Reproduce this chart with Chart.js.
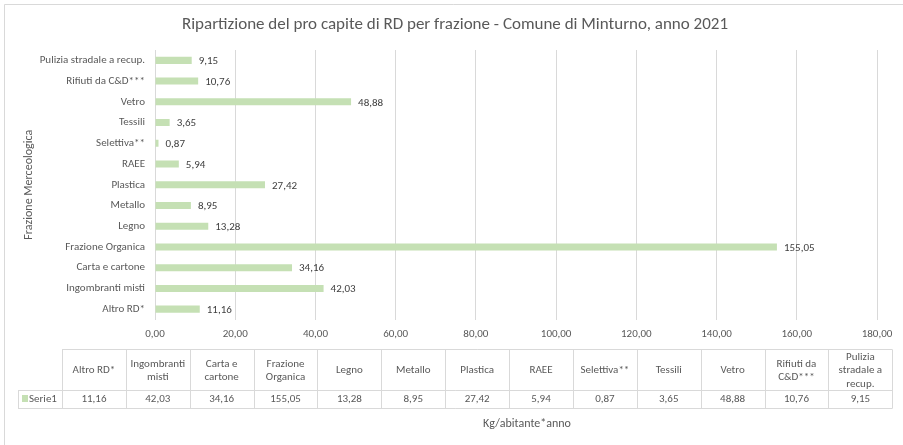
<!DOCTYPE html>
<html><head><meta charset="utf-8">
<script src="https://cdn.jsdelivr.net/npm/chart.js@4/dist/chart.umd.min.js"></script>
<style>html,body{margin:0;padding:0;background:#fff}canvas{display:block}</style>
</head><body>
<canvas id="c" width="903" height="445"></canvas>
<script>
const categories = ['Altro RD*','Ingombranti misti','Carta e cartone','Frazione Organica','Legno','Metallo','Plastica','RAEE','Selettiva**','Tessili','Vetro','Rifiuti da C&D***','Pulizia stradale a recup.'];
const values = [11.16,42.03,34.16,155.05,13.28,8.95,27.42,5.94,0.87,3.65,48.88,10.76,9.15];
const seriesName = 'Serie1';
const xTickValues = [0,20,40,60,80,100,120,140,160,180];
const chartTitle = 'Ripartizione del pro capite di RD per frazione - Comune di Minturno, anno 2021';
const xAxisTitle = 'Kg/abitante*anno';
const yAxisTitle = 'Frazione Merceologica';

const FONT = 'Carlito, Calibri, Lato, sans-serif';
const GREEN = '#c5e0b4';
const GRID = '#d9d9d9';
const TXT = '#595959';
const fmt = v => v.toFixed(2).replace('.', ',');

function wrap(ctx, text, maxW) {
  const words = text.split(' ');
  const lines = [];
  let cur = '';
  for (const w of words) {
    const t = cur ? cur + ' ' + w : w;
    if (cur && ctx.measureText(t).width > maxW) { lines.push(cur); cur = w; }
    else cur = t;
  }
  if (cur) lines.push(cur);
  return lines;
}

const extras = {
  id: 'extras',
  beforeDraw(chart) {
    const ctx = chart.ctx;
    ctx.save();
    ctx.fillStyle = '#fff';
    ctx.fillRect(0, 0, chart.width, chart.height);
    ctx.strokeStyle = GRID; ctx.lineWidth = 1;
    ctx.beginPath();
    ctx.moveTo(4.5, chart.height); ctx.lineTo(4.5, 4.5); ctx.lineTo(chart.width, 4.5);
    ctx.stroke();
    // title
    ctx.font = '17px ' + FONT;
    ctx.fillStyle = TXT;
    ctx.textAlign = 'center';
    ctx.textBaseline = 'middle';
    ctx.fillText(chartTitle, 455, 25);
    ctx.restore();
  },
  afterDatasetsDraw(chart) {
    const ctx = chart.ctx;
    const meta = chart.getDatasetMeta(0);
    ctx.save();
    ctx.font = '11px ' + FONT;
    ctx.fillStyle = '#404040';
    ctx.textAlign = 'left';
    ctx.textBaseline = 'middle';
    meta.data.forEach((bar, i) => {
      ctx.fillText(fmt(values[i]), bar.x + 7, bar.y + 1);
    });
    ctx.restore();
  },
  afterDraw(chart) {
    const ctx = chart.ctx;
    const left = 62, right = 892.3, legLeft = 18;
    const hTop = 349, hBot = 390, rBot = 408;
    const n = categories.length;
    const cw = (right - left) / n;
    const px = v => Math.round(v) + 0.5;
    ctx.save();
    ctx.strokeStyle = GRID; ctx.lineWidth = 1;
    ctx.beginPath();
    ctx.moveTo(left, px(hTop)); ctx.lineTo(right, px(hTop));
    ctx.moveTo(legLeft, px(hBot)); ctx.lineTo(right, px(hBot));
    ctx.moveTo(legLeft, px(rBot)); ctx.lineTo(right, px(rBot));
    ctx.moveTo(px(legLeft), px(hBot)); ctx.lineTo(px(legLeft), px(rBot));
    for (let i = 0; i <= n; i++) {
      const x = px(left + i * cw);
      ctx.moveTo(x, px(hTop)); ctx.lineTo(x, px(rBot));
    }
    ctx.stroke();

    ctx.font = '11px ' + FONT;
    ctx.fillStyle = TXT;
    ctx.textAlign = 'center';
    ctx.textBaseline = 'middle';
    const lh = 13.5;
    categories.forEach((c, i) => {
      const cx = left + (i + 0.5) * cw;
      const lines = wrap(ctx, c, cw - 8);
      const cy = (hTop + hBot) / 2 + 1;
      lines.forEach((l, k) => {
        ctx.fillText(l, cx, cy + (k - (lines.length - 1) / 2) * lh);
      });
      ctx.fillText(fmt(values[i]), cx, (hBot + rBot) / 2 + 0.5);
    });
    // legend key
    ctx.fillStyle = GREEN;
    ctx.fillRect(22, 395, 6, 7);
    ctx.fillStyle = TXT;
    ctx.textAlign = 'left';
    ctx.fillText(seriesName, 29, (hBot + rBot) / 2 + 0.5);
    // x axis title
    ctx.font = '12px ' + FONT;
    ctx.textAlign = 'center';
    ctx.fillText(xAxisTitle, 527, 424);
    ctx.restore();
  }
};

new Chart(document.getElementById('c'), {
  type: 'bar',
  data: {
    labels: categories,
    datasets: [{ label: seriesName, data: values, backgroundColor: GREEN, borderWidth: 0, barPercentage: 0.34, categoryPercentage: 1 }]
  },
  options: {
    indexAxis: 'y',
    responsive: false,
    animation: false,
    devicePixelRatio: 1,
    layout: { padding: { left: 5, right: 26, top: 50, bottom: 0 } },
    plugins: {
      legend: { display: false },
      tooltip: { enabled: false },
      title: { display: false }
    },
    scales: {
      x: {
        type: 'linear', min: 0, max: 180,
        afterBuildTicks: s => { s.ticks = xTickValues.map(v => ({ value: v })); },
        afterFit: s => { s.height = 125.5; },
        grid: { color: GRID, drawTicks: false },
        border: { display: false },
        ticks: { color: TXT, font: { family: FONT, size: 11 }, padding: 8, callback: v => fmt(v) }
      },
      y: {
        reverse: true,
        afterFit: s => { s.width = 150; },
        grid: { display: false, drawTicks: false },
        border: { display: false },
        ticks: { color: TXT, font: { family: FONT, size: 11 }, padding: 10 },
        title: { display: true, text: yAxisTitle, color: TXT, font: { family: FONT, size: 12 }, padding: { top: 17, bottom: 0 } }
      }
    }
  },
  plugins: [extras]
});
</script>
</body></html>
